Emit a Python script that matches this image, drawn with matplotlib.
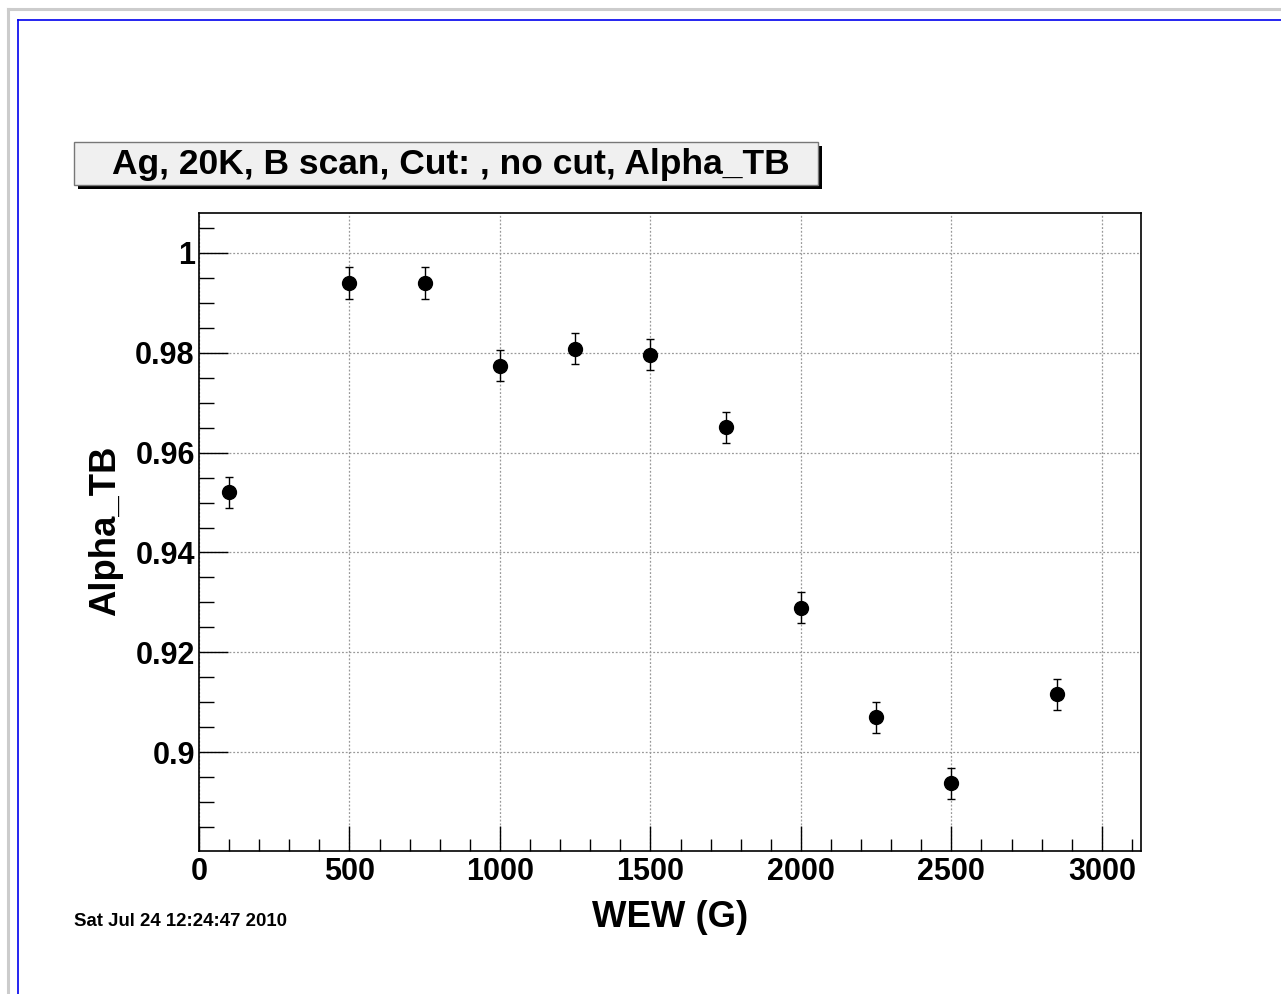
import matplotlib
matplotlib.use("Agg")
import matplotlib.pyplot as plt
from matplotlib.patches import Rectangle
from matplotlib.lines import Line2D
import numpy as np

plt.rcParams["font.family"] = ["Liberation Sans", "DejaVu Sans"]
plt.rcParams["font.weight"] = "bold"

# ── data ──────────────────────────────────────────────────────────────────────
wew     = [100, 500, 750, 1000, 1250, 1500, 1750, 2000, 2250, 2500, 2850]
alpha   = [0.9521, 0.9940, 0.9940, 0.9774, 0.9808, 0.9796, 0.9651,
           0.9289, 0.9070, 0.8938, 0.9116]
alpha_e = [0.0031, 0.0032, 0.0032, 0.0031, 0.0031, 0.0031, 0.0031,
           0.0031, 0.0031, 0.0031, 0.0031]

xticks_major = [0, 500, 1000, 1500, 2000, 2500, 3000]
yticks_major = [0.90, 0.92, 0.94, 0.96, 0.98, 1.00]
ytick_labels = ["0.9", "0.92", "0.94", "0.96", "0.98", "1"]

TITLE = "Ag, 20K, B scan, Cut: , no cut, Alpha_TB"
DATE  = "Sat Jul 24 12:24:47 2010"

W, H = 1281, 994
fig = plt.figure(figsize=(W / 100, H / 100), dpi=100)


def fx(px):
    return px / W


def fy(py):
    return 1 - py / H


# ── canvas frames (gray outer, blue inner) ────────────────────────────────────
fig.add_artist(Line2D([fx(8), fx(8)], [fy(9), 0], transform=fig.transFigure,
                      color="#cccccc", lw=2.2))
fig.add_artist(Line2D([fx(8), 1], [fy(9), fy(9)], transform=fig.transFigure,
                      color="#cccccc", lw=2.2))
fig.add_artist(Line2D([fx(17.5), fx(17.5)], [fy(19.5), 0], transform=fig.transFigure,
                      color="#0000ee", lw=1.2))
fig.add_artist(Line2D([fx(17.5), 1], [fy(19.5), fy(19.5)], transform=fig.transFigure,
                      color="#0000ee", lw=1.2))

# ── main axes ─────────────────────────────────────────────────────────────────
ax = fig.add_axes([fx(199), fy(851), fx(1141 - 199), (851 - 213) / H])

ax.errorbar(wew, alpha, yerr=alpha_e, fmt="o", color="black", ms=10,
            elinewidth=1.0, capsize=3, capthick=1.0, zorder=3)

ax.set_xlim(0, 3130)
ax.set_ylim(0.8802, 1.008)

ax.set_xticks(xticks_major)
ax.set_xticks(np.arange(0, 3101, 100), minor=True)
ax.set_yticks(yticks_major)
ax.set_yticklabels(ytick_labels)
ax.set_yticks(np.arange(0.885, 1.0081, 0.005), minor=True)

ax.grid(True, which="major", color="#999999", linestyle=(0, (1.5, 1.5)), lw=0.9)
ax.set_axisbelow(True)

ax.tick_params(axis="x", which="major", direction="in", length=18, width=1,
               labelsize=22, pad=4.5)
ax.tick_params(axis="x", which="minor", direction="in", length=9, width=1)
ax.tick_params(axis="y", which="major", direction="in", length=21, width=1,
               labelsize=22, pad=3)
ax.tick_params(axis="y", which="minor", direction="in", length=11, width=1)
for lab in ax.get_xticklabels() + ax.get_yticklabels():
    lab.set_fontweight("bold")

for sp in ax.spines.values():
    sp.set_linewidth(1.2)

# axis titles
fig.text(fx(670), fy(927), "WEW (G)", ha="center", va="baseline",
         fontsize=26.3, fontweight="bold")
fig.text(fx(106), fy(531), "Alpha_TB", ha="center", va="center", rotation=90,
         fontsize=26.3, fontweight="bold")

# ── title box with shadow ─────────────────────────────────────────────────────
bx0, by0, bx1, by1 = 74, 142, 818, 185
sh = 4
fig.add_artist(Rectangle((fx(bx0 + sh), fy(by1 + sh)), fx(bx1 - bx0), (by1 - by0) / H,
                         transform=fig.transFigure, facecolor="black",
                         edgecolor="none"))
fig.add_artist(Rectangle((fx(bx0), fy(by1)), fx(bx1 - bx0), (by1 - by0) / H,
                         transform=fig.transFigure, facecolor="#f0f0f0",
                         edgecolor="#777777", lw=1))
fig.text(fx(451), fy(174), TITLE, ha="center", va="baseline",
         fontsize=25.5, fontweight="bold")

# date stamp
fig.text(fx(74), fy(926), DATE, ha="left", va="baseline",
         fontsize=13.4, fontweight="bold")

fig.savefig("out.png", dpi=100)
